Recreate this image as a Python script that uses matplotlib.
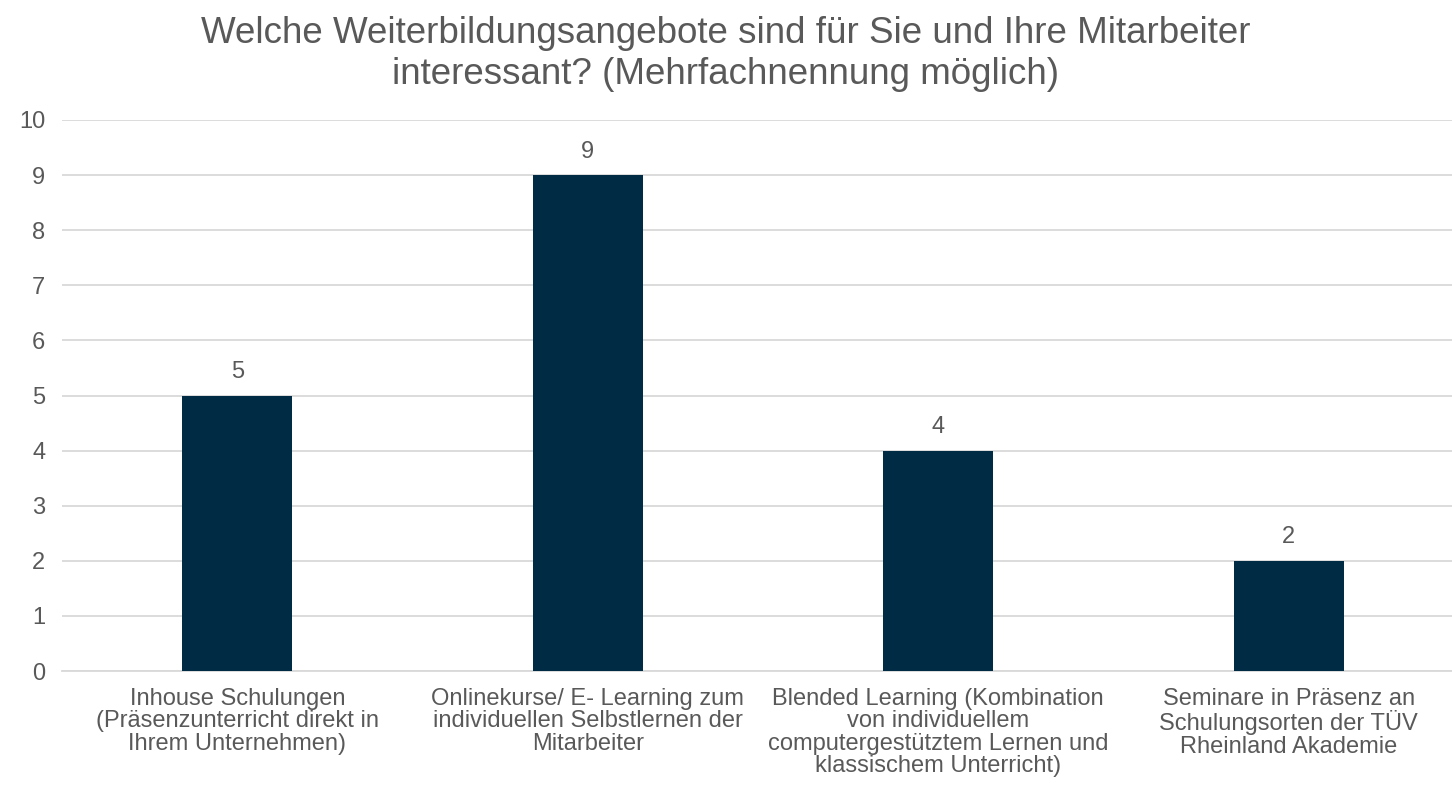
import matplotlib
matplotlib.use("Agg")
import matplotlib.pyplot as plt

categories = [
    "Inhouse Schulungen\n(Präsenzunterricht direkt in\nIhrem Unternehmen)",
    "Onlinekurse/ E- Learning zum\nindividuellen Selbstlernen der\nMitarbeiter",
    "Blended Learning (Kombination\nvon individuellem\ncomputergestütztem Lernen und\nklassischem Unterricht)",
    "Seminare in Präsenz an\nSchulungsorten der TÜV\nRheinland Akademie",
]
values = [5, 9, 4, 2]
title = "Welche Weiterbildungsangebote sind für Sie und Ihre Mitarbeiter\ninteressant? (Mehrfachnennung möglich)"

plt.rcParams['font.family'] = ['Liberation Sans', 'DejaVu Sans']
text_color = "#595959"
bar_color = "#002B45"

fig = plt.figure(figsize=(14.52, 7.93), dpi=100)
ax = fig.add_axes([62/1452, 1-671/793, 1402/1452, 551/793])
x = list(range(len(values)))
bars = ax.bar(x, values, width=0.314, color=bar_color, zorder=3)
for xi, v in zip(x, values):
    ax.annotate(str(v), (xi, v), xytext=(0, 9), textcoords="offset points",
                ha="center", va="bottom", fontsize=17, color=text_color)

ax.set_xlim(-0.5, len(values) - 0.5)
ax.set_ylim(0, 10)
ax.set_yticks(range(0, 11))
ax.yaxis.grid(True, color="#D9D9D9", linewidth=1.3, zorder=0)
ax.set_axisbelow(True)
for s in ["top", "right", "left"]:
    ax.spines[s].set_visible(False)
ax.spines["bottom"].set_color("#D9D9D9")
ax.spines["bottom"].set_linewidth(1.3)
ax.tick_params(axis="y", length=0, pad=12, labelsize=17, labelcolor=text_color)
ax.tick_params(axis="x", length=0, pad=12, labelsize=17, labelcolor=text_color)
ax.set_xticks(x)
ax.set_xticklabels(categories, linespacing=1.03)

fig.text(0.5, 1 - 54/793, title, ha="center", va="center", fontsize=26.5,
         color=text_color, linespacing=1.2)

fig.savefig("out.png", dpi=100)
